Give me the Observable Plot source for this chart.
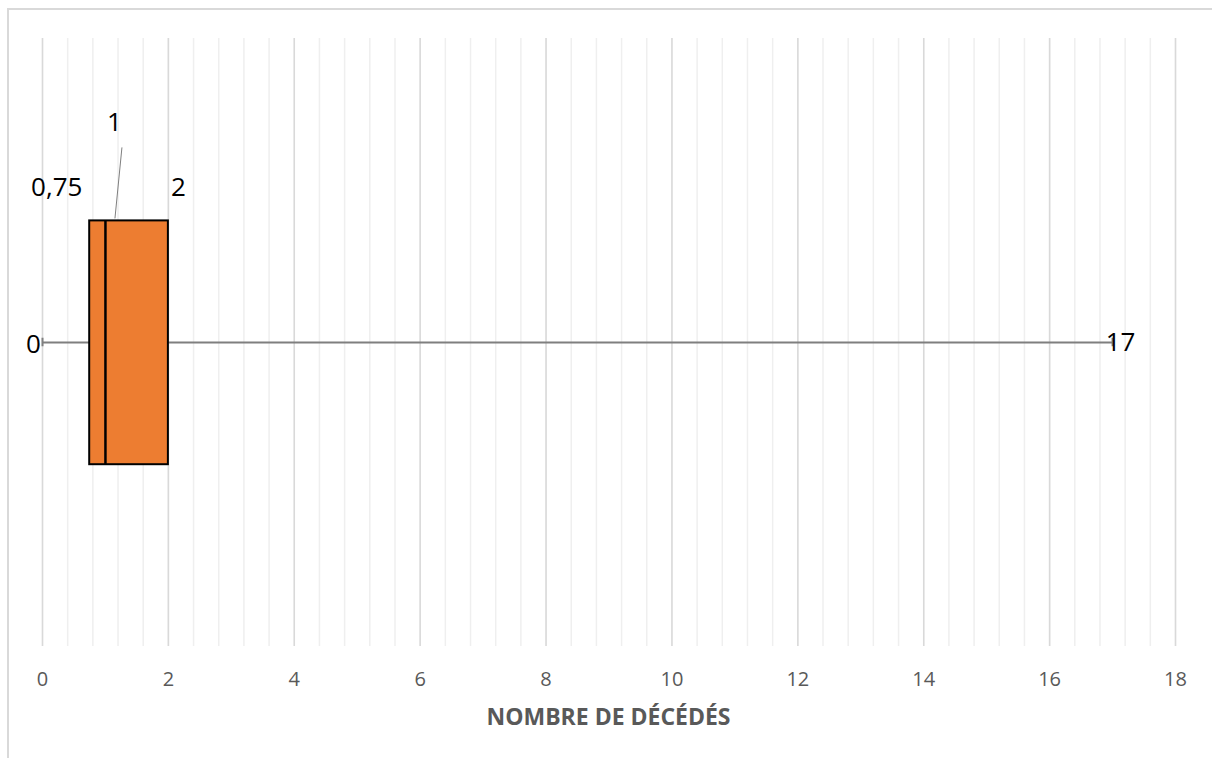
<!DOCTYPE html>
<html>
<head>
<meta charset="utf-8">
<script src="https://cdn.jsdelivr.net/npm/d3@7"></script>
<script src="https://cdn.jsdelivr.net/npm/@observablehq/plot@0.6"></script>
<style>
  html, body { margin: 0; padding: 0; background: #fff; overflow: hidden; }
  #wrap { position: relative; width: 1212px; height: 758px; }
  #frame { position: absolute; left: 7px; top: 8px; width: 1300px; height: 900px;
           border-left: 2px solid #d9d9d9; border-top: 2px solid #d9d9d9; box-sizing: border-box; }
  #chart { position: absolute; left: 0; top: 0; }
</style>
</head>
<body>
<div id="wrap"><div id="frame"></div><div id="chart"></div></div>
<script>
// ---- data ----
const categories = ["Nombre de décédés"];
const minValues = [0];
const q1Values = [0.75];
const medianValues = [1];
const q3Values = [2];
const maxValues = [17];
const majorTicks = [0, 2, 4, 6, 8, 10, 12, 14, 16, 18];
const minorTicks = [0,0.4,0.8,1.2,1.6,2,2.4,2.8,3.2,3.6,4,4.4,4.8,5.2,5.6,6,6.4,6.8,7.2,7.6,8,8.4,8.8,9.2,9.6,10,10.4,10.8,11.2,11.6,12,12.4,12.8,13.2,13.6,14,14.4,14.8,15.2,15.6,16,16.4,16.8,17.2,17.6,18];
const axisTitle = "NOMBRE DE DÉCÉDÉS";

const rows = categories.map((c, i) => ({
  cat: c, min: minValues[i], q1: q1Values[i], med: medianValues[i], q3: q3Values[i], max: maxValues[i]
}));
const r = rows[0];
// box vertical extent in y units (y domain 0..1, box centred at 0.5)
const yc = 0.5, yLo = 0.299, yHi = 0.7;
const fmt = v => String(v).replace(".", ",");

const font = "'Open Sans', 'Noto Sans', sans-serif";
const LBL = 26;

const chart = Plot.plot({
  width: 1212,
  height: 758,
  marginLeft: 42,
  marginRight: 37,
  marginTop: 38,
  marginBottom: 112,
  style: { fontFamily: font, background: "transparent", overflow: "visible" },
  x: { domain: [0, 18] },
  y: { domain: [0, 1], axis: null },
  marks: [
    Plot.ruleX(minorTicks, { x: d => d, stroke: "#efefef", strokeWidth: 1.5 }),
    Plot.ruleX(majorTicks, { x: d => d, stroke: "#d9d9d9", strokeWidth: 1.5 }),
    Plot.axisX({ ticks: majorTicks, tickSize: 0, tickPadding: 25, tickFormat: d => String(d),
                 fontSize: 20, fill: "#595959", label: null }),
    // whiskers
    Plot.ruleY(rows, { y: () => yc, x1: "min", x2: "q1", stroke: "#7f7f7f", strokeWidth: 2 }),
    Plot.ruleY(rows, { y: () => yc, x1: "q3", x2: "max", stroke: "#7f7f7f", strokeWidth: 2 }),
    Plot.ruleX(rows, { x: "min", y1: () => yc - 0.007, y2: () => yc + 0.007, stroke: "#7f7f7f", strokeWidth: 2 }),
    Plot.ruleX(rows, { x: "max", y1: () => yc - 0.007, y2: () => yc + 0.007, stroke: "#7f7f7f", strokeWidth: 2 }),
    // box
    Plot.rect(rows, { x1: "q1", x2: "q3", y1: () => yLo, y2: () => yHi, fill: "#ED7D31", stroke: "#000", strokeWidth: 2 }),
    Plot.ruleX(rows, { x: "med", y1: () => yLo, y2: () => yHi, stroke: "#000", strokeWidth: 2.5 }),
    // data labels
    Plot.text(rows, { x: "min", y: () => yc, text: d => fmt(d.min), dx: -9, dy: 2, fontSize: LBL, fill: "#000", textAnchor: "middle" }),
    Plot.text(rows, { x: "max", y: () => yc, text: d => fmt(d.max), dx: 8, fontSize: LBL, fill: "#000", textAnchor: "middle" }),
    Plot.text(rows, { x: "q1", y: () => yHi, text: d => fmt(d.q1), dx: -33, dy: -33, fontSize: LBL, fill: "#000", textAnchor: "middle" }),
    Plot.text(rows, { x: "q3", y: () => yHi, text: d => fmt(d.q3), dx: 10, dy: -33, fontSize: LBL, fill: "#000", textAnchor: "middle" }),
    Plot.text(rows, { x: "med", y: () => yHi, text: d => fmt(d.med), dx: 9, dy: -98, fontSize: LBL, fill: "#000", textAnchor: "middle" })
  ]
});

// make sure tick labels use the intended size
chart.querySelectorAll("g[aria-label*='tick label']").forEach(g => {
  g.style.fontSize = "20px";
  g.querySelectorAll("text").forEach(t => { t.style.fontSize = "20px"; });
});

// leader line from "1" label to the box top, positioned via the chart's scales
const xs = chart.scale("x"), ys = chart.scale("y");
const ns = "http://www.w3.org/2000/svg";
const line = document.createElementNS(ns, "line");
const bx = xs.apply(r.med), by = ys.apply(yHi);
line.setAttribute("x1", bx + 17); line.setAttribute("y1", by - 73);
line.setAttribute("x2", bx + 10); line.setAttribute("y2", by - 2);
line.setAttribute("stroke", "#7f7f7f"); line.setAttribute("stroke-width", "1");
chart.appendChild(line);

// axis title
const title = document.createElementNS(ns, "text");
title.setAttribute("x", (xs.apply(0) + xs.apply(18)) / 2);
title.setAttribute("y", 719);
title.setAttribute("text-anchor", "middle");
title.setAttribute("dominant-baseline", "middle");
title.setAttribute("font-size", "23");
title.setAttribute("font-weight", "bold");
title.setAttribute("fill", "#595959");
title.setAttribute("font-family", font);
title.textContent = axisTitle;
chart.appendChild(title);

document.getElementById("chart").appendChild(chart);
</script>
</body>
</html>
